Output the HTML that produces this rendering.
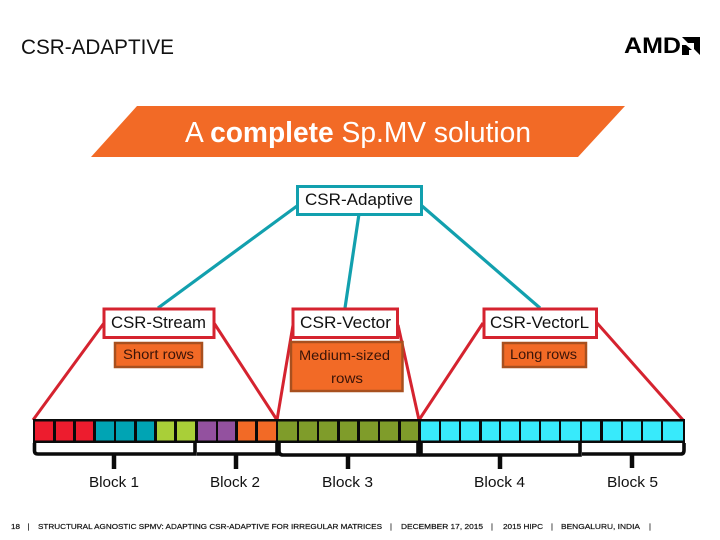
<!DOCTYPE html>
<html><head><meta charset="utf-8"><style>
html,body{margin:0;padding:0;background:#fff}
svg{display:block}
text{font-family:"Liberation Sans",sans-serif;fill:#111}
</style></head><body>
<svg width="720" height="540" viewBox="0 0 720 540" xmlns="http://www.w3.org/2000/svg">
<rect width="720" height="540" fill="#fff"/>
<text x="21" y="54" font-size="21" textLength="153" lengthAdjust="spacingAndGlyphs">CSR-ADAPTIVE</text>
<text x="624" y="53" font-size="22" font-weight="bold" textLength="57" lengthAdjust="spacingAndGlyphs" style="fill:#000">AMD</text>
<polygon points="682,37 700,37 700,55 694,49 694,43 688,43" fill="#000"/>
<polygon points="682,45 686,45 692,50 689,50 689,55 682,55" fill="#000"/>

<polygon points="137,106 625,106 578,157 91,157" fill="#f26a26"/>
<text x="185" y="142" font-size="29" style="fill:#fff" textLength="346" lengthAdjust="spacingAndGlyphs">A <tspan font-weight="bold">complete</tspan> Sp.MV solution</text>

<g stroke="#12a0ae" stroke-width="3.2" fill="none">
<line x1="297" y1="206" x2="158" y2="308"/>
<line x1="359" y1="214" x2="345" y2="308"/>
<line x1="422" y1="206" x2="540" y2="308"/>
</g>
<rect x="297.500" y="186.500" width="124" height="28" fill="#fff" stroke="#12a0ae" stroke-width="3"/>
<text x="305" y="205" font-size="17" textLength="108" lengthAdjust="spacingAndGlyphs">CSR-Adaptive</text>

<g stroke="#d5232f" stroke-width="3" fill="none">
<line x1="104" y1="323" x2="33" y2="420"/>
<line x1="214" y1="323" x2="277" y2="420"/>
<line x1="293" y1="325" x2="277" y2="420"/>
<line x1="398" y1="325" x2="419" y2="420"/>
<line x1="483" y1="323" x2="419" y2="420"/>
<line x1="597" y1="323" x2="683" y2="420"/>
</g>
<rect x="291" y="342" width="111.500" height="49" fill="#f26a26" stroke="#a8501f" stroke-width="2.500"/>
<rect x="115" y="343" width="87" height="24" fill="#f26a26" stroke="#a8501f" stroke-width="2.500"/>
<rect x="503" y="343" width="83" height="24" fill="#f26a26" stroke="#a8501f" stroke-width="2.500"/>
<g font-size="13.500">
<text x="123" y="359" textLength="71" lengthAdjust="spacingAndGlyphs" style="fill:#3a1408">Short rows</text>
<text x="299" y="360" textLength="91" lengthAdjust="spacingAndGlyphs" style="fill:#3a1408">Medium-sized</text>
<text x="331" y="383" textLength="32" lengthAdjust="spacingAndGlyphs" style="fill:#3a1408">rows</text>
<text x="510" y="359" textLength="67" lengthAdjust="spacingAndGlyphs" style="fill:#3a1408">Long rows</text>
</g>

<g fill="#fff" stroke="#d5232f" stroke-width="3">
<rect x="104" y="309" width="110" height="28.500"/>
<rect x="293" y="309" width="104.500" height="28.500"/>
<rect x="484" y="309" width="112.500" height="28.500"/>
</g>
<g font-size="17">
<text x="111" y="328" textLength="95" lengthAdjust="spacingAndGlyphs">CSR-Stream</text>
<text x="300" y="328" textLength="91" lengthAdjust="spacingAndGlyphs">CSR-Vector</text>
<text x="490" y="328" textLength="99" lengthAdjust="spacingAndGlyphs">CSR-VectorL</text>
</g>

<rect x="33" y="419" width="652" height="24" fill="#0a0a0a"/>
<g>
<rect x="35" y="421.500" width="18" height="19" fill="#ed1c2e"/>
<rect x="56" y="421.500" width="17" height="19" fill="#ed1c2e"/>
<rect x="76" y="421.500" width="17" height="19" fill="#ed1c2e"/>
<rect x="96" y="421.500" width="18" height="19" fill="#00a4b4"/>
<rect x="116" y="421.500" width="18" height="19" fill="#00a4b4"/>
<rect x="137" y="421.500" width="17" height="19" fill="#00a4b4"/>
<rect x="157" y="421.500" width="17" height="19" fill="#a9cf38"/>
<rect x="177" y="421.500" width="18" height="19" fill="#a9cf38"/>
<rect x="198" y="421.500" width="18" height="19" fill="#93519f"/>
<rect x="218" y="421.500" width="17" height="19" fill="#93519f"/>
<rect x="238" y="421.500" width="17" height="19" fill="#f26a26"/>
<rect x="258" y="421.500" width="18" height="19" fill="#f26a26"/>
<rect x="278" y="421.500" width="19" height="19" fill="#7f9c2a"/>
<rect x="299" y="421.500" width="18" height="19" fill="#7f9c2a"/>
<rect x="319" y="421.500" width="18" height="19" fill="#7f9c2a"/>
<rect x="340" y="421.500" width="17" height="19" fill="#7f9c2a"/>
<rect x="360" y="421.500" width="18" height="19" fill="#7f9c2a"/>
<rect x="380" y="421.500" width="18" height="19" fill="#7f9c2a"/>
<rect x="401" y="421.500" width="17" height="19" fill="#7f9c2a"/>
<rect x="421" y="421.500" width="18" height="19" fill="#38eafb"/>
<rect x="441" y="421.500" width="18" height="19" fill="#38eafb"/>
<rect x="461" y="421.500" width="18" height="19" fill="#38eafb"/>
<rect x="482" y="421.500" width="17" height="19" fill="#38eafb"/>
<rect x="501" y="421.500" width="18" height="19" fill="#38eafb"/>
<rect x="521" y="421.500" width="18" height="19" fill="#38eafb"/>
<rect x="541" y="421.500" width="18" height="19" fill="#38eafb"/>
<rect x="561" y="421.500" width="19" height="19" fill="#38eafb"/>
<rect x="582" y="421.500" width="18" height="19" fill="#38eafb"/>
<rect x="603" y="421.500" width="18" height="19" fill="#38eafb"/>
<rect x="623" y="421.500" width="18" height="19" fill="#38eafb"/>
<rect x="643" y="421.500" width="18" height="19" fill="#38eafb"/>
<rect x="663" y="421.500" width="20" height="19" fill="#38eafb"/>
</g>

<g stroke="#0a0a0a" stroke-width="3.600" fill="none">
<path d="M34.500 443V451Q34.500 454 38 454H195V443"/>
<path d="M197 454H277V443"/>
<path d="M279 443V451Q279 455 283 455H418V443"/>
<path d="M421 443V455H580V443"/>
<path d="M582 454H681Q684 454 684 450V443"/>
<line x1="114" y1="454" x2="114" y2="469" stroke-width="4.500"/>
<line x1="236" y1="454" x2="236" y2="469" stroke-width="4.500"/>
<line x1="348" y1="455" x2="348" y2="469" stroke-width="4.500"/>
<line x1="500" y1="455" x2="500" y2="469" stroke-width="4.500"/>
<line x1="632" y1="455" x2="632" y2="468" stroke-width="4.500"/>
</g>

<g font-size="15">
<text x="89" y="487" textLength="50" lengthAdjust="spacingAndGlyphs">Block 1</text>
<text x="210" y="487" textLength="50" lengthAdjust="spacingAndGlyphs">Block 2</text>
<text x="322" y="487" textLength="51" lengthAdjust="spacingAndGlyphs">Block 3</text>
<text x="474" y="487" textLength="51" lengthAdjust="spacingAndGlyphs">Block 4</text>
<text x="607" y="487" textLength="51" lengthAdjust="spacingAndGlyphs">Block 5</text>
</g>

<g font-size="7.500" stroke="#111" stroke-width="0.200">
<text x="11" y="529" textLength="9" lengthAdjust="spacingAndGlyphs">18</text>
<text x="27.500" y="529">|</text>
<text x="38" y="529" textLength="344" lengthAdjust="spacingAndGlyphs">STRUCTURAL AGNOSTIC SPMV: ADAPTING CSR-ADAPTIVE FOR IRREGULAR MATRICES</text>
<text x="390" y="529">|</text>
<text x="401" y="529" textLength="82" lengthAdjust="spacingAndGlyphs">DECEMBER 17, 2015</text>
<text x="491" y="529">|</text>
<text x="503" y="529" textLength="40" lengthAdjust="spacingAndGlyphs">2015 HIPC</text>
<text x="551" y="529">|</text>
<text x="561" y="529" textLength="79" lengthAdjust="spacingAndGlyphs">BENGALURU, INDIA</text>
<text x="649" y="529">|</text>
</g>
</svg>
</body></html>
